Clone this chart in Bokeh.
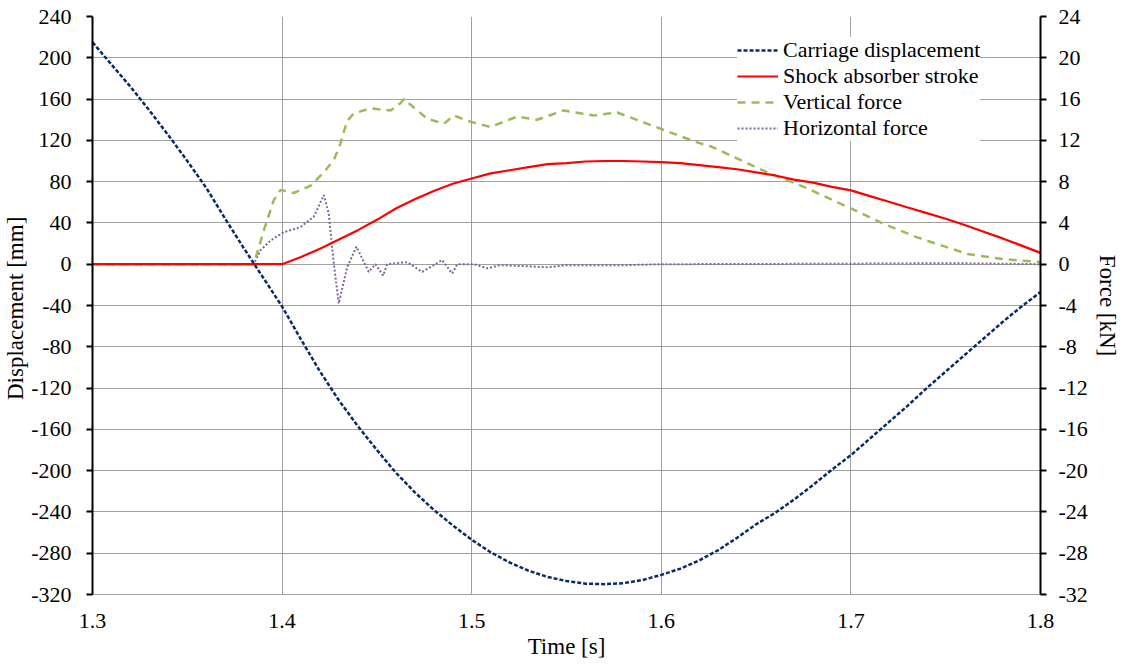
from bokeh.plotting import figure
from bokeh.models import Range1d, LinearAxis, FixedTicker, Legend, LegendItem
from bokeh.embed import file_html
from bokeh.resources import INLINE

# ---------------- data ----------------
x_ticks = [1.3, 1.4, 1.5, 1.6, 1.7, 1.8]
x_tick_labels = ["1.3", "1.4", "1.5", "1.6", "1.7", "1.8"]
left_ticks = [-320, -280, -240, -200, -160, -120, -80, -40, 0, 40, 80, 120, 160, 200, 240]
left_tick_labels = [str(v) for v in left_ticks]
right_ticks = [-32, -28, -24, -20, -16, -12, -8, -4, 0, 4, 8, 12, 16, 20, 24]
right_tick_labels = [str(v) for v in right_ticks]

t_disp = [1.30, 1.31, 1.32, 1.33, 1.34, 1.35, 1.36, 1.37, 1.38, 1.385, 1.39, 1.40,
          1.41, 1.42, 1.43, 1.44, 1.45, 1.46, 1.47, 1.48, 1.49, 1.50,
          1.51, 1.52, 1.53, 1.54, 1.55, 1.56, 1.57, 1.58, 1.59, 1.60,
          1.61, 1.62, 1.63, 1.64, 1.65, 1.66, 1.67, 1.68, 1.69, 1.70,
          1.71, 1.72, 1.73, 1.74, 1.75, 1.76, 1.77, 1.78, 1.79, 1.80]
carriage_disp = [215, 193.5, 172, 149, 125, 100, 74, 44, 15, 1, -13, -41,
                 -73, -104, -132, -157, -180, -202, -221, -238, -253, -267,
                 -279, -289, -297, -303, -307, -309.5, -310, -309, -306, -301,
                 -295, -287, -277, -265, -252, -241, -228, -214, -199, -185,
                 -169, -153, -137, -120, -104, -88, -72, -56, -41, -27]

t_stroke = [1.30, 1.35, 1.40, 1.41, 1.42, 1.43, 1.44, 1.45, 1.46, 1.47, 1.48, 1.49, 1.50,
            1.51, 1.52, 1.53, 1.54, 1.55, 1.56, 1.57, 1.58, 1.59, 1.60,
            1.61, 1.62, 1.63, 1.64, 1.65, 1.66, 1.67, 1.68, 1.69, 1.70,
            1.71, 1.72, 1.73, 1.74, 1.75, 1.76, 1.77, 1.78, 1.79, 1.80]
shock_stroke = [0, 0, 0, 7, 15, 24, 33, 43, 54, 63, 71, 78, 83,
                88, 91, 94, 97, 98, 99.5, 100, 100, 99.5, 99,
                98, 96, 94, 92, 89, 86, 82, 79, 75, 71.5,
                66, 60.5, 55, 49.5, 44, 38, 31.5, 25, 18, 11]

t_vert = [1.30, 1.385, 1.3875, 1.3904, 1.3956, 1.3992, 1.4062, 1.415, 1.422, 1.4273,
          1.4308, 1.4343, 1.4378, 1.4466, 1.4572, 1.4624, 1.4642, 1.4765, 1.4853,
          1.4906, 1.4994, 1.5099, 1.524, 1.5345, 1.5486, 1.5644, 1.5767, 1.60,
          1.6189, 1.6264, 1.6558, 1.6752, 1.70, 1.7174, 1.735, 1.7613, 1.78, 1.80]
vertical_force = [0, 0, 1.5, 3.3, 6.2, 7.2, 6.9, 7.6, 8.9, 10.1,
                  11.7, 13.9, 14.6, 15.1, 14.9, 15.6, 16.0, 14.1, 13.6,
                  14.4, 13.8, 13.3, 14.3, 14.0, 14.9, 14.4, 14.7, 13.1,
                  11.8, 11.4, 8.9, 7.5, 5.4, 3.9, 2.6, 1.0, 0.5, 0.2]

t_horiz = [1.30, 1.385, 1.3886, 1.3939, 1.4009, 1.4097, 1.4167, 1.422, 1.4246, 1.4273,
           1.4299, 1.4343, 1.4392, 1.4457, 1.4493, 1.4533, 1.4554, 1.466, 1.4739,
           1.4844, 1.4897, 1.4924, 1.5011, 1.5082, 1.515, 1.53, 1.54, 1.55,
           1.58, 1.60, 1.70, 1.75, 1.78, 1.80]
horizontal_force = [0, 0, 1.35, 2.3, 3.1, 3.6, 4.6, 6.7, 4.9, 0,
                    -3.8, -0.3, 1.7, -0.75, 0, -1.1, 0, 0.2, -0.75,
                    0.4, -0.9, 0, 0, -0.4, -0.1, -0.2, -0.3, -0.1,
                    -0.1, 0, 0.05, 0.1, 0.05, 0]

# ---------------- figure ----------------
FONT = "Liberation Serif"
W, H = 1124, 666
FL, FR, FT, FB = 92, 1040, 16, 594   # frame edges in page pixels

p = figure(width=W, height=H, output_backend="svg", toolbar_location=None,
           x_range=Range1d(1.3, 1.8), y_range=Range1d(-320, 240),
           min_border_left=FL, min_border_right=W - FR,
           min_border_top=FT, min_border_bottom=H - FB)
p.extra_y_ranges = {"force": Range1d(-32, 24)}
p.outline_line_color = None
p.background_fill_color = "white"
p.border_fill_color = "white"

GRID = "#a0a0a0"
p.xgrid.ticker = FixedTicker(ticks=x_ticks)
p.ygrid.ticker = FixedTicker(ticks=left_ticks)
p.xgrid.grid_line_color = GRID
p.ygrid.grid_line_color = GRID
p.xgrid.grid_line_width = 1
p.ygrid.grid_line_width = 1

TICK_FS = "22px"
LABEL_FS = "23px"

# x axis
xa = p.xaxis[0]
xa.ticker = FixedTicker(ticks=x_ticks)
xa.major_label_overrides = {v: s for v, s in zip(x_ticks, x_tick_labels)}
xa.axis_line_color = GRID
xa.major_tick_line_color = None
xa.minor_tick_line_color = None
xa.major_tick_out = 0
xa.major_tick_in = 0
xa.major_label_standoff = 19
xa.major_label_text_font = FONT
xa.major_label_text_font_size = TICK_FS
xa.major_label_text_color = "black"
xa.axis_label = "Time [s]"
xa.axis_label_text_font = FONT
xa.axis_label_text_font_size = LABEL_FS
xa.axis_label_text_font_style = "normal"
xa.axis_label_text_color = "black"
xa.axis_label_standoff = 3

# left axis
ya = p.yaxis[0]
ya.ticker = FixedTicker(ticks=left_ticks)
ya.major_label_overrides = {v: s for v, s in zip(left_ticks, left_tick_labels)}
ya.axis_line_color = "black"
ya.axis_line_width = 2
ya.major_tick_line_color = "black"
ya.major_tick_line_width = 2
ya.major_tick_out = 6
ya.major_tick_in = 0
ya.minor_tick_line_color = None
ya.major_label_standoff = 15
ya.major_label_text_font = FONT
ya.major_label_text_font_size = TICK_FS
ya.major_label_text_color = "black"
ya.axis_label = "Displacement  [mm]"
ya.axis_label_text_font = FONT
ya.axis_label_text_font_size = LABEL_FS
ya.axis_label_text_font_style = "normal"
ya.axis_label_text_color = "black"
ya.axis_label_standoff = 0

# right axis
ra = LinearAxis(y_range_name="force", ticker=FixedTicker(ticks=right_ticks))
ra.major_label_overrides = {v: s for v, s in zip(right_ticks, right_tick_labels)}
ra.axis_line_color = "black"
ra.axis_line_width = 2
ra.major_tick_line_color = "black"
ra.major_tick_line_width = 2
ra.major_tick_out = 6
ra.major_tick_in = 0
ra.minor_tick_line_color = None
ra.major_label_standoff = 12
ra.major_label_text_font = FONT
ra.major_label_text_font_size = TICK_FS
ra.major_label_text_color = "black"
ra.axis_label = "Force [kN]"
ra.axis_label_text_font = FONT
ra.axis_label_text_font_size = LABEL_FS
ra.axis_label_text_font_style = "normal"
ra.axis_label_text_color = "black"
ra.axis_label_standoff = 4
p.add_layout(ra, "right")

# ---------------- lines ----------------
r_h = p.line(t_horiz, horizontal_force, y_range_name="force",
             line_color="#8064A2", line_width=2, line_dash="2 2")
r_v = p.line(t_vert, vertical_force, y_range_name="force",
             line_color="#9BBB59", line_width=2.5, line_dash="8 6")
r_s = p.line(t_stroke, shock_stroke, line_color="#FF0000", line_width=2.2)
r_c = p.line(t_disp, carriage_disp, line_color="#0A2A66", line_width=2.5, line_dash="4 2")

legend = Legend(items=[
    LegendItem(label="Carriage displacement", renderers=[r_c]),
    LegendItem(label="Shock absorber stroke", renderers=[r_s]),
    LegendItem(label="Vertical force", renderers=[r_v]),
    LegendItem(label="Horizontal force", renderers=[r_h]),
], location=(645, 453), orientation="vertical")
legend.label_text_font = FONT
legend.label_text_font_size = "22px"
legend.label_text_color = "black"
legend.glyph_width = 41
legend.glyph_height = 22
legend.label_height = 22
legend.label_standoff = 5
legend.spacing = -2
legend.padding = 8
legend.margin = 0
legend.border_line_color = None
legend.background_fill_color = "white"
legend.background_fill_alpha = 1.0
p.add_layout(legend, "center")

open("out.html", "w").write(file_html(p, INLINE))
